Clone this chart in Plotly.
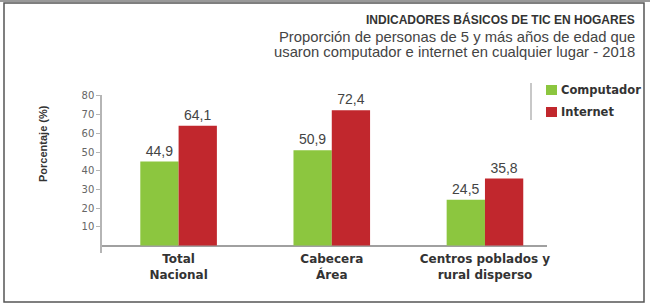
import plotly.graph_objects as go

categories = ["Total<br>Nacional", "Cabecera<br>Área", "Centros poblados y<br>rural disperso"]
computador = [44.9, 50.9, 24.5]
internet = [64.1, 72.4, 35.8]
series_names = ["Computador", "Internet"]
y_ticks = [10, 20, 30, 40, 50, 60, 70, 80]
title = "INDICADORES BÁSICOS DE TIC EN HOGARES"
subtitle = ["Proporción de personas de 5 y más años de edad que",
            "usaron computador e internet en cualquier lugar - 2018"]

GREEN = "#8cc63f"
RED = "#c1272d"

W, H = 650, 306
ML, MR, MT, MB = 102, 103, 95, 53
PW, PH = W - ML - MR, H - MT - MB


def px_x(px):
    return (px - ML) / PW


def px_y(py):
    return (H - MB - py) / PH


def fmt(v):
    return f"{v:.1f}".replace(".", ",")


fig = go.Figure()
for name, vals, col in [(series_names[0], computador, GREEN), (series_names[1], internet, RED)]:
    fig.add_trace(go.Bar(
        x=categories, y=vals, name=name, marker_color=col,
        marker_line_width=0,
        text=[fmt(v) for v in vals], textposition="outside",
        textfont=dict(family="Liberation Sans", size=14, color="#444"),
        cliponaxis=False, showlegend=False, hoverinfo="skip",
    ))

fig.update_layout(
    width=W, height=H,
    margin=dict(l=ML, r=MR, t=MT, b=MB),
    paper_bgcolor="white", plot_bgcolor="white",
    barmode="group", bargap=0.5, bargroupgap=0,
    xaxis=dict(range=[-0.5, 2.405], showgrid=False, showline=False, ticks="",
               ticklabelstandoff=-3,
               tickfont=dict(family="DejaVu Sans", size=12, color="#333", weight="bold")),
    yaxis=dict(range=[-4, 80.5], tickvals=y_ticks, showgrid=False, showline=True,
               linecolor="#b5b5b5", linewidth=1.5, ticks="outside", ticklen=4,
               tickcolor="#b5b5b5", zeroline=True, zerolinecolor="#a0a0a0", zerolinewidth=1.5,
               tickfont=dict(family="DejaVu Sans", size=10, color="#666")),
    font=dict(family="Liberation Sans"),
)

# y-axis title
fig.add_annotation(x=px_x(43), y=px_y(143), xref="paper", yref="paper",
                   xanchor="center", yanchor="middle",
                   text="<b>Porcentaje (%)</b>", textangle=-90, showarrow=False,
                   font=dict(family="Liberation Sans", size=11, color="#333"))

# titles
fig.add_annotation(x=px_x(637), y=px_y(19), xref="paper", yref="paper", xanchor="right",
                   yanchor="middle", showarrow=False,
                   text=f"<b>{title}</b>",
                   font=dict(family="Liberation Sans", size=12, color="#333"))
for i, line in enumerate(subtitle):
    fig.add_annotation(x=px_x(637), y=px_y(37 + 15.5 * i), xref="paper", yref="paper",
                       xanchor="right", yanchor="middle", showarrow=False,
                       text=line,
                       font=dict(family="Liberation Sans", size=14.8, color="#444"))

# manual legend
fig.add_shape(type="line", xref="paper", yref="paper", x0=px_x(531), x1=px_x(531),
              y0=px_y(83), y1=px_y(120), line=dict(color="#c8c8c8", width=2))
for i, (name, col) in enumerate(zip(series_names, [GREEN, RED])):
    top = 85 + i * 22
    fig.add_shape(type="rect", xref="paper", yref="paper", x0=px_x(546), x1=px_x(557),
                  y0=px_y(top + 10), y1=px_y(top), fillcolor=col, line_width=0)
    fig.add_annotation(x=px_x(559), y=px_y(top + 5), xref="paper", yref="paper",
                       xanchor="left", yanchor="middle", showarrow=False,
                       text=f"<b>{name}</b>",
                       font=dict(family="DejaVu Sans", size=11.5, color="#333"))

# frame
fig.add_shape(type="rect", xref="paper", yref="paper", x0=px_x(4), x1=px_x(644),
              y0=px_y(302), y1=px_y(3), line=dict(color="#555", width=1.5))
fig.add_shape(type="line", xref="paper", yref="paper", x0=px_x(0), x1=px_x(650),
              y0=px_y(1), y1=px_y(1), line=dict(color="#999", width=2))

fig.write_html("out.html", config={"displayModeBar": False},
               post_script="document.body.style.margin='0';")
